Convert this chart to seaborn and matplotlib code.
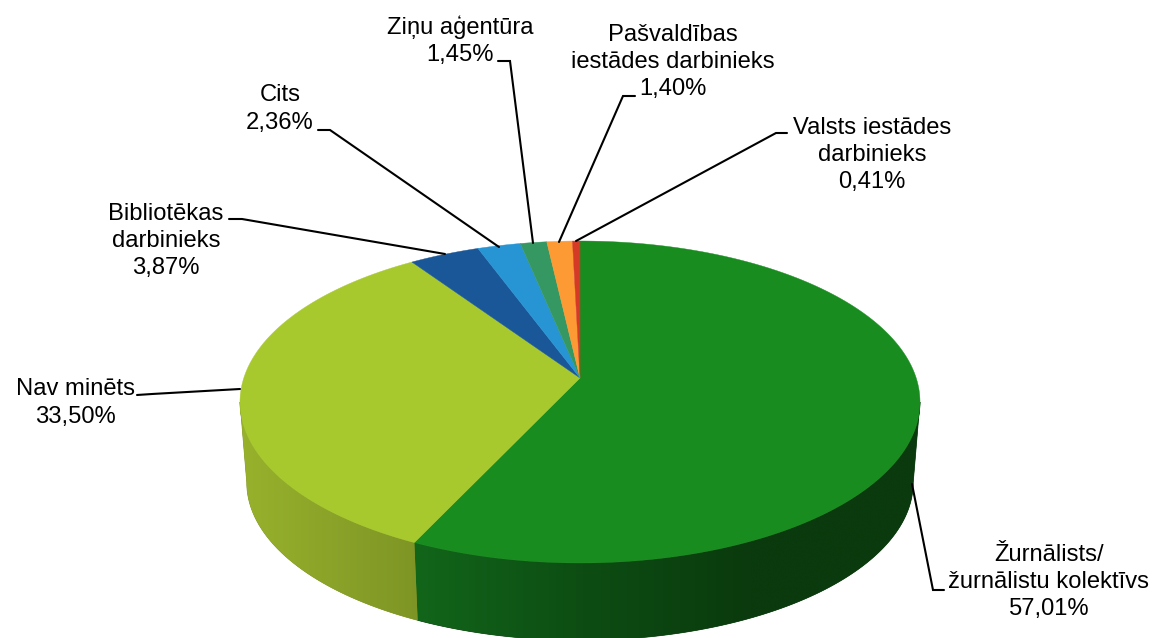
import numpy as np
import matplotlib
matplotlib.use("Agg")
import matplotlib.pyplot as plt
import seaborn as sns

# Slice values, clockwise from the top
categories = ["Žurnālists/\nžurnālistu kolektīvs", "Nav minēts", "Bibliotēkas\ndarbinieks", "Cits",
              "Ziņu aģentūra", "Pašvaldības\niestādes darbinieks", "Valsts iestādes\ndarbinieks"]
shares = [57.01, 33.50, 3.87, 2.36, 1.45, 1.40, 0.41]
share_labels = ["57,01%", "33,50%", "3,87%", "2,36%", "1,45%", "1,40%", "0,41%"]

# Colours
face_colors = sns.color_palette(["#198c20", "#a7c92e", "#1a5798", "#2795d4", "#359862", "#fd9a33", "#d43a26"])
side_colors = [("#12661a", "#0d4d13", "#0a3a0d", "#0a3a0d"), ("#98b22c", "#7e9525")]

# Label centres and leader lines, in picture pixels
label_pos = [(1049, 582), (75, 403), (166, 241), (280, 109), (460, 41), (673, 62), (872, 155)]
leaders = [
    [(912, 484), (933, 590), (944, 590)],
    [(240, 389), (152, 394), (137, 395)],
    [(445, 254), (242, 219), (229, 219)],
    [(499, 247), (330, 130), (318, 130)],
    [(533, 243), (510, 61), (498, 61)],
    [(559, 242), (623, 96), (635, 96)],
    [(576, 241), (776, 133), (787, 133)],
]

sns.set_theme(style="white")
plt.rcParams["font.family"] = ["Liberation Sans", "DejaVu Sans"]

fig = plt.figure(figsize=(11.57, 6.38), dpi=100)
ax = fig.add_axes([0, 0, 1, 1])
ax.axis("off")

K = 0.149


# Tilted disc: the centre of the pie sits above the centre of the ellipse
def disc(theta, cx, cy, a, b):
    u, v = np.sin(theta), np.cos(theta)
    d = 1 + K * v
    return cx + a * u / d, cy - b * v / d


def top(theta):
    return disc(theta, 580, 378, 336.2, 157.4)


def bottom(theta):
    return disc(theta, 580, 459, 329.5, 154.3)


edges = np.radians(np.cumsum([0] + shares) / 100 * 360)

# Only the front of the side wall can be seen
front_start = np.arccos(-K)
front_end = 2 * np.pi - front_start

# Side wall first, a left-to-right gradient clipped to each slice
for i in range(len(side_colors)):
    start = max(edges[i], front_start)
    end = min(edges[i + 1], front_end)
    th = np.linspace(start, end, 300)
    xt, yt = top(th)
    xb, yb = bottom(th)
    px = np.r_[xt, xb[::-1]]
    py = np.r_[yt, yb[::-1]]
    outline = ax.fill(px, py, color=side_colors[i][-1], lw=0.5, zorder=2)[0]
    ramp = sns.blend_palette(side_colors[i], as_cmap=True)
    img = ax.imshow(np.linspace(0, 1, 256).reshape(1, -1), cmap=ramp, aspect="auto",
                    extent=(px.min(), px.max(), py.max(), py.min()), zorder=2.1,
                    interpolation="bilinear")
    img.set_clip_path(outline)

ax.set_xlim(0, 1157)
ax.set_ylim(638, 0)

# Top face
for i in range(len(shares)):
    th = np.linspace(edges[i], edges[i + 1], 300)
    x, y = top(th)
    ax.fill(np.r_[580, x], np.r_[378, y], color=face_colors[i], lw=0.3, zorder=3)

# Leader lines and labels
for pts in leaders:
    xs, ys = zip(*pts)
    ax.plot(xs, ys, color="black", lw=1.5, zorder=4, solid_joinstyle="miter")

for cat, lab, (x, y) in zip(categories, share_labels, label_pos):
    ax.text(x, y, cat + "\n" + lab, ha="center", va="center", fontsize=17.1, color="black",
            linespacing=1.32, zorder=5)

fig.savefig("out.png", dpi=100)
